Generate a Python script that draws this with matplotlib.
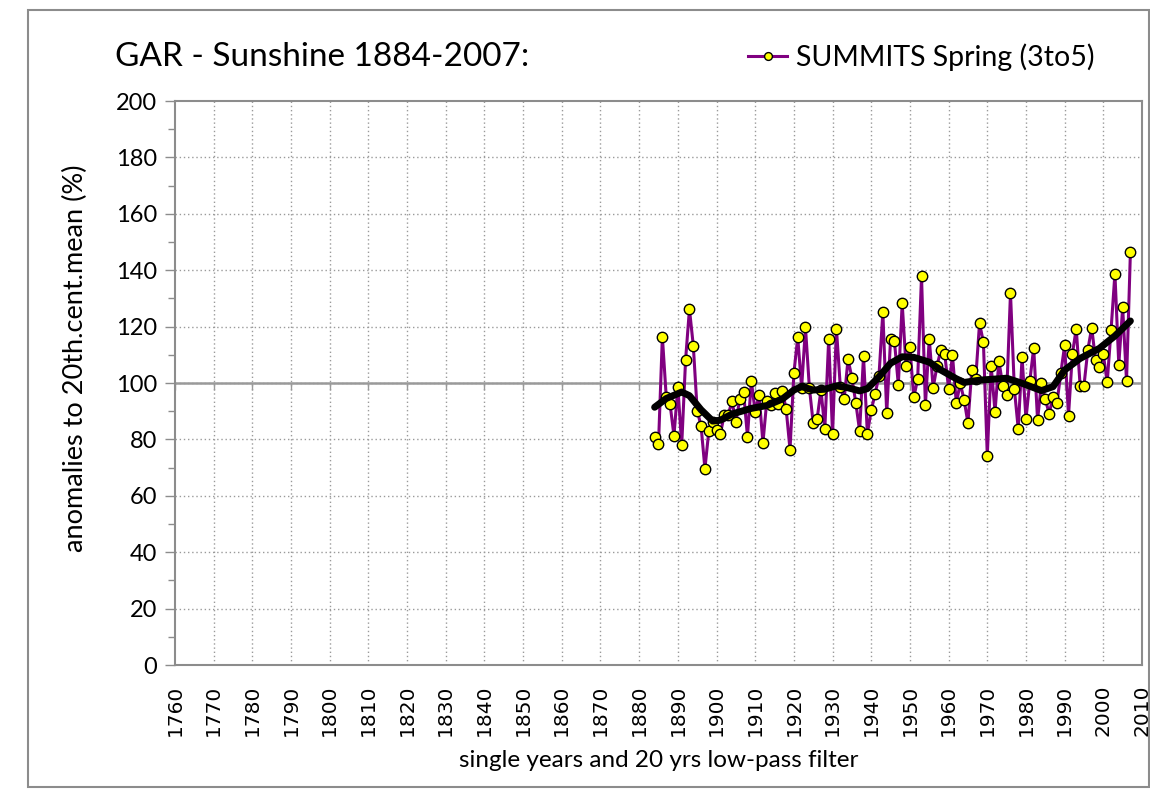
import matplotlib; matplotlib.use("Agg")
import matplotlib.pyplot as plt
import numpy as np
from matplotlib.patches import Rectangle

plt.rcParams["font.family"] = ["Lato", "DejaVu Sans"]

years = np.arange(1884, 2008)
sunshine = [
    81.0, 78.3, 116.4, 95.1, 92.4, 81.3, 98.7, 77.9, 108.2, 126.2,   # 1884-1893
    113.2, 90.2, 84.8, 69.6, 82.9, 86.2, 83.3, 82.0, 88.7, 88.6,     # 1894-1903
    93.6, 86.1, 94.2, 96.7, 81.0, 100.8, 89.6, 95.7, 78.8, 93.7,     # 1904-1913
    92.1, 96.6, 92.4, 97.2, 90.8, 76.4, 103.5, 116.2, 98.3, 119.7,   # 1914-1923
    98.4, 85.7, 87.2, 97.5, 83.7, 115.6, 81.8, 119.3, 98.7, 94.2,    # 1924-1933
    108.4, 101.9, 93.0, 83.0, 109.5, 82.0, 90.4, 96.1, 102.5, 125.2, # 1934-1943
    89.2, 115.6, 114.8, 99.4, 128.3, 105.9, 112.7, 94.9, 101.4, 137.8, # 1944-1953
    92.1, 115.7, 98.3, 106.0, 111.8, 110.3, 98.0, 109.9, 92.8, 99.9, # 1954-1963
    94.1, 85.8, 104.6, 101.4, 121.2, 114.4, 74.2, 106.1, 89.8, 107.9, # 1964-1973
    99.1, 95.6, 131.9, 97.9, 83.8, 109.1, 87.2, 100.7, 112.5, 86.9,  # 1974-1983
    99.9, 94.3, 89.1, 95.1, 92.8, 103.4, 113.4, 88.4, 110.3, 119.3,  # 1984-1993
    99.1, 99.1, 111.8, 119.6, 108.0, 105.8, 110.2, 100.2, 118.8, 138.8, # 1994-2003
    106.5, 126.8, 100.8, 146.3,                                      # 2004-2007
]

# 20 yrs low-pass filter
filt_years = [1884, 1887, 1891, 1893, 1896, 1899, 1901, 1904, 1909, 1913,
              1917, 1920, 1922, 1925, 1928, 1931, 1934, 1937, 1939, 1942,
              1945, 1948, 1951, 1955, 1958, 1962, 1964, 1968, 1975, 1979,
              1984, 1987, 1990, 1994, 1999, 2003, 2007]
filt_vals = [91.4, 94.5, 96.8, 95.5, 90.5, 86.5, 86.8, 89.0, 91.0, 92.0,
             94.3, 97.5, 98.7, 97.5, 97.8, 99.0, 98.3, 97.2, 98.0, 102.2,
             107.0, 109.3, 109.1, 107.4, 104.6, 101.5, 100.2, 101.0, 101.7, 99.9,
             97.3, 98.7, 104.6, 108.7, 112.3, 116.7, 122.0]

decades = np.arange(1760, 2011, 10)
yticks = np.arange(0, 201, 20)

fig = plt.figure(figsize=(11.5, 7.93), dpi=100)
fig.patches.append(Rectangle((28/1150, 1-787/793), 1121/1150, 777/793,
                             transform=fig.transFigure, fill=False,
                             edgecolor="#8c8c8c", lw=1.5))
ax = fig.add_axes([175/1150, 1-665/793, 967/1150, 564/793])

for d in decades[1:-1]:
    ax.axvline(d, color="#9a9a9a", lw=1.0, ls=(0, (1, 2)), zorder=0)
for t in yticks[1:-1]:
    ax.axhline(t, color="#9a9a9a", lw=1.0, ls=(0, (1, 2)), zorder=0)
ax.axhline(100, color="#9a9a9a", lw=1.8, zorder=1)
ax.vlines(decades, 97.5, 100, color="#9a9a9a", lw=1.0, zorder=1)

ax.plot(years, sunshine, color="#800080", lw=2.2, marker="o", ms=7.5,
        mfc="#ffff00", mec="black", mew=1.0, zorder=3,
        label="SUMMITS Spring (3to5)")
ax.plot(filt_years, filt_vals, color="black", lw=5, solid_joinstyle="round",
        solid_capstyle="round", zorder=4)

ax.set_xlim(1760, 2010)
ax.set_ylim(0, 200)
ax.set_xticks(decades)
ax.set_xticklabels([str(d) for d in decades], rotation=90,
                   family="DejaVu Sans", fontsize=14.5)
ax.set_yticks(yticks)
ax.set_yticks(np.arange(10, 200, 20), minor=True)
ax.tick_params(axis="y", labelsize=17, length=7, width=1, color="#8c8c8c", pad=6)
ax.tick_params(axis="y", which="minor", length=5, width=1, color="#8c8c8c")
ax.tick_params(axis="x", length=0, pad=14)
for s in ax.spines.values():
    s.set_color("#8c8c8c"); s.set_linewidth(1.5)

ax.set_ylabel("anomalies to 20th.cent.mean (%)", fontsize=19.5)
ax.yaxis.set_label_coords(-0.09, 0.544)
ax.set_xlabel("single years and 20 yrs low-pass filter", fontsize=17.5, labelpad=10)

fig.text(115/1150, 1-57/793, "GAR - Sunshine 1884-2007:", fontsize=24,
         va="center", ha="left")
ax.legend(loc="center left", bbox_to_anchor=(722/1150, 1-57/793),
          bbox_transform=fig.transFigure, frameon=False, fontsize=20.5,
          handlelength=1.4, handletextpad=0.3, markerscale=0.75)

fig.savefig("out.png", dpi=100)
